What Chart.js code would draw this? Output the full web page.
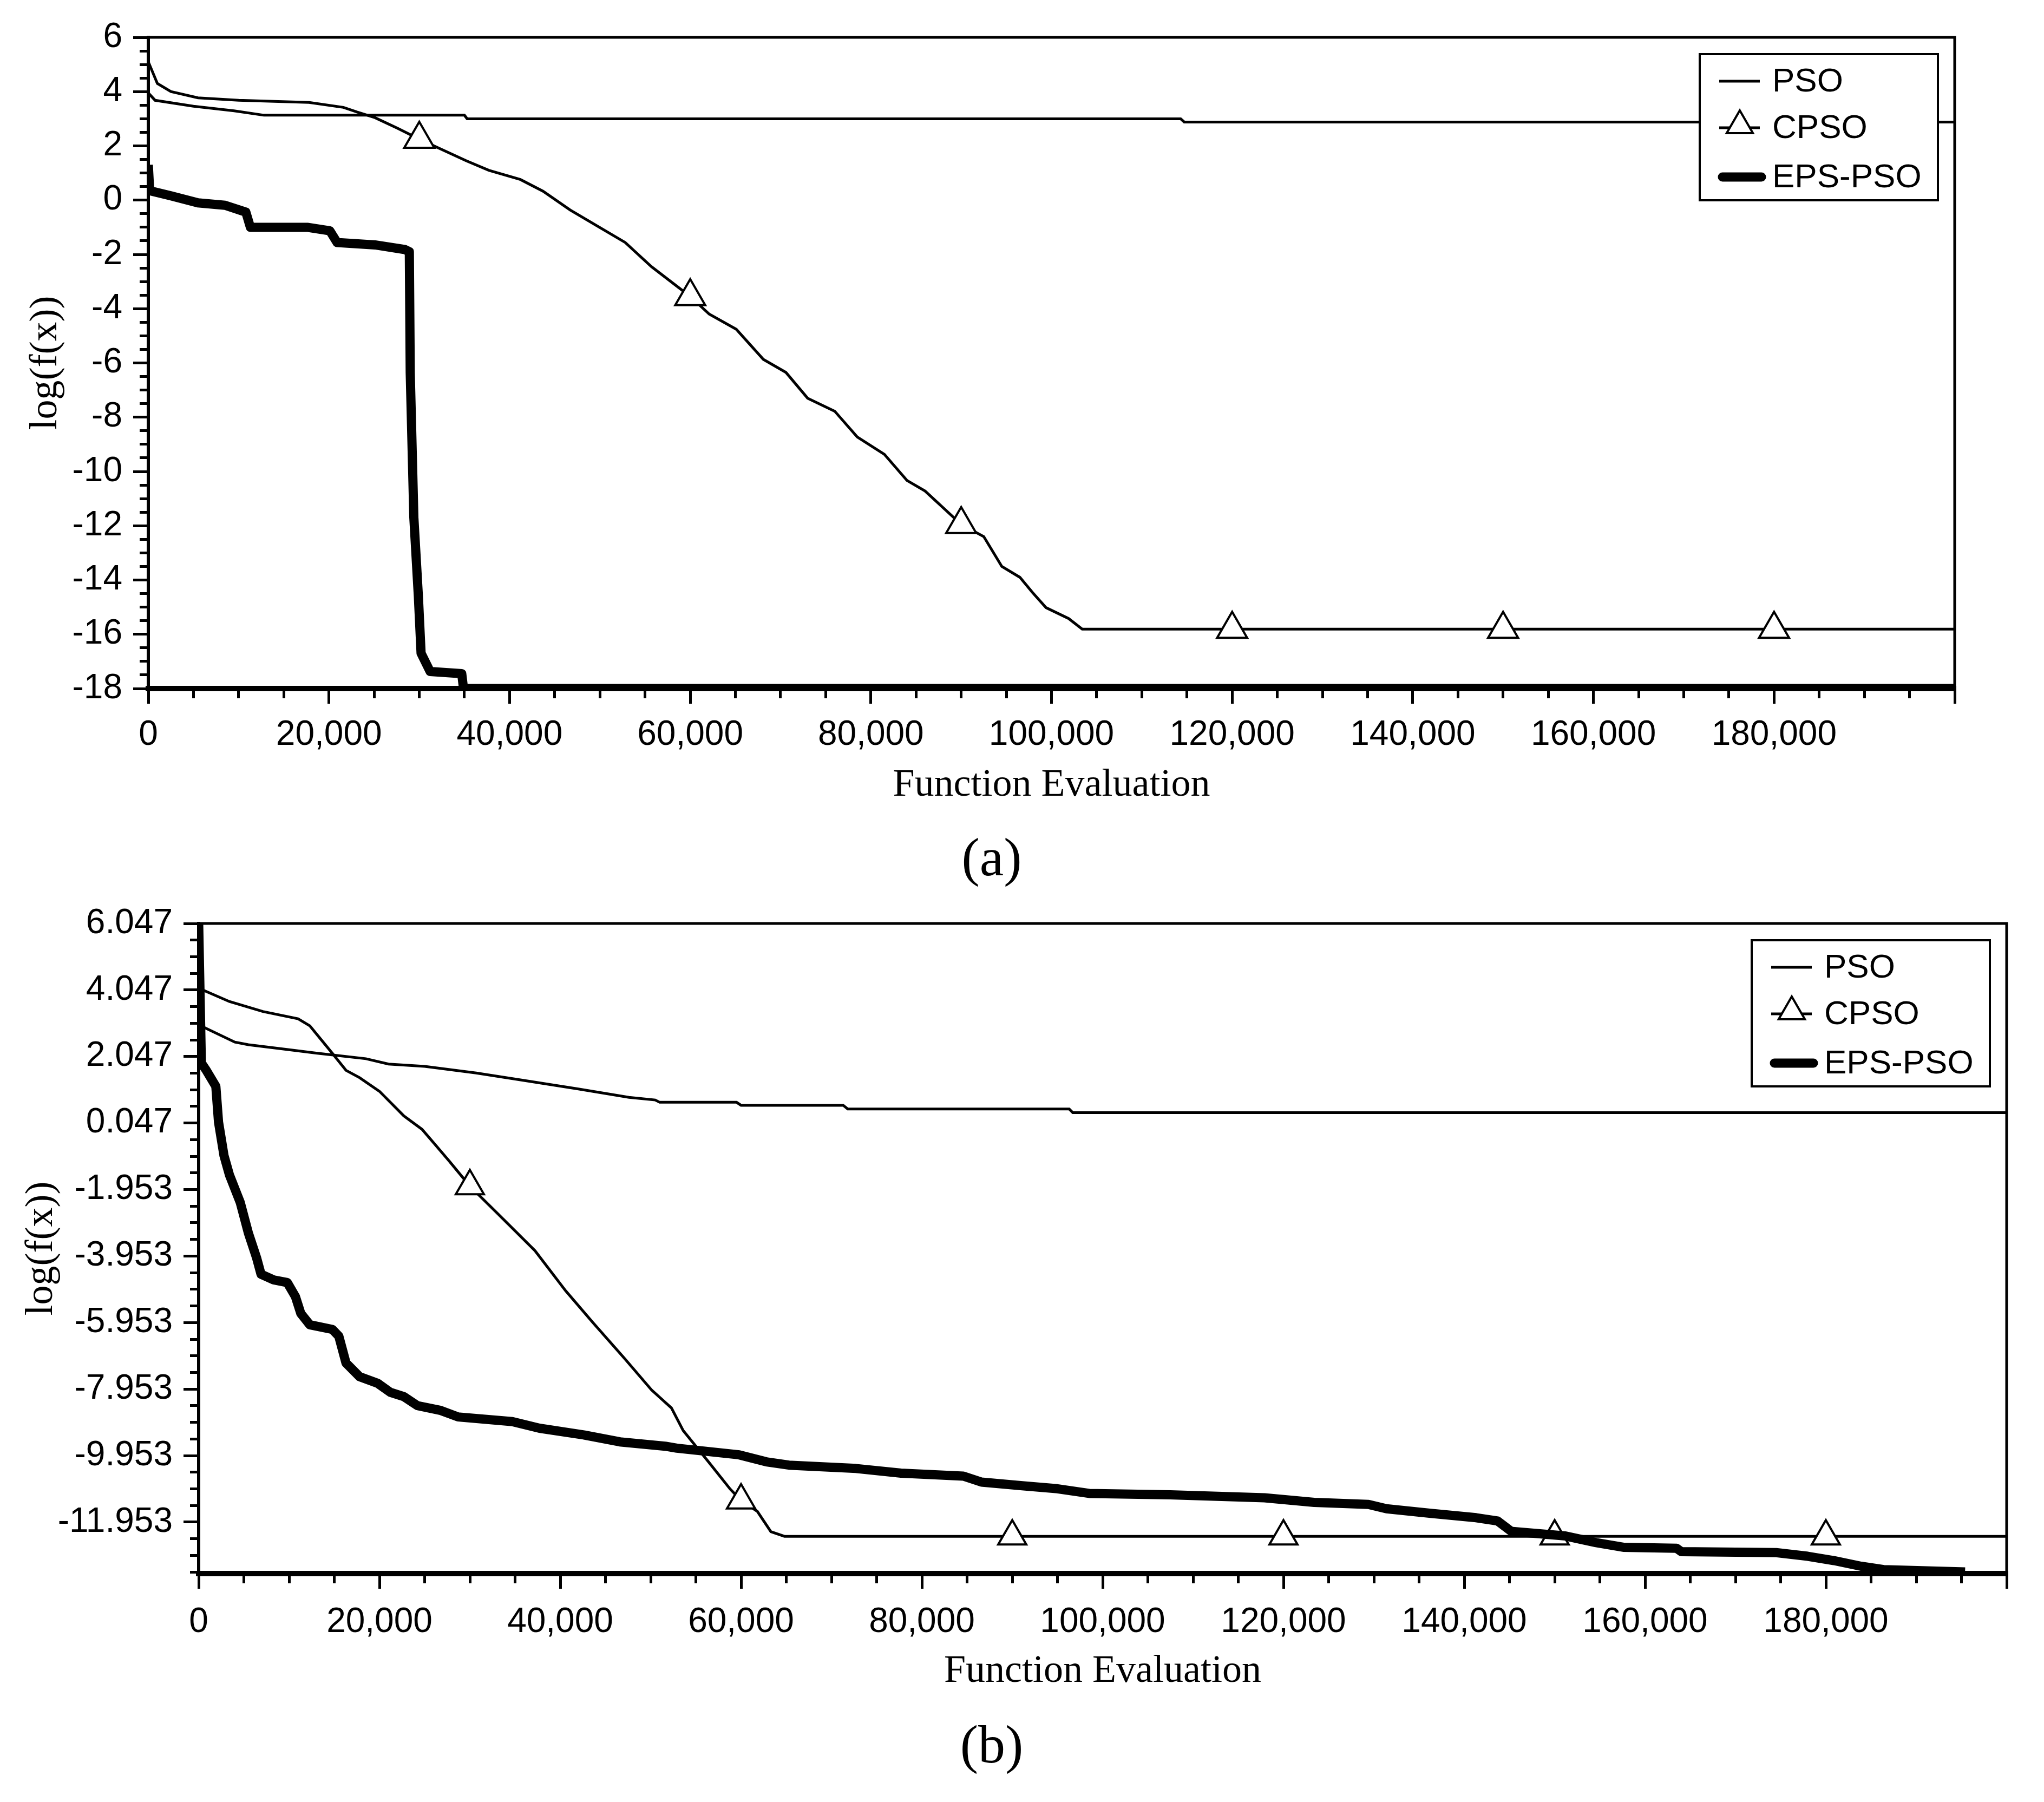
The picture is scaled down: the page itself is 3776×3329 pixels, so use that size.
<!DOCTYPE html>
<html>
<head>
<meta charset="utf-8">
<title>PSO / CPSO / EPS-PSO convergence</title>
<script src="https://cdn.jsdelivr.net/npm/chart.js@4.4.1/dist/chart.umd.min.js"></script>
<style>
  html, body { margin: 0; padding: 0; background: #fff; }
  body { width: 3776px; height: 3329px; position: relative; overflow: hidden; }
  canvas { position: absolute; left: 0; }
  #chartA { top: 0; }
  #chartB { top: 1600px; }
  .caption {
    position: absolute; left: 1632px; width: 400px; text-align: center;
    font-family: "Liberation Serif", "Times New Roman", serif; font-size: 100px; line-height: 1;
    color: #000; z-index: 2;
  }
</style>
</head>
<body>
<canvas id="chartA" width="3776" height="1500"></canvas>
<canvas id="chartB" width="3776" height="1540"></canvas>
<div class="caption" style="top:1534px">(a)</div>
<div class="caption" style="top:3173px">(b)</div>

<script>
const seriesNames = ["PSO", "CPSO", "EPS-PSO"];

const xTicks = [0, 20000, 40000, 60000, 80000, 100000, 120000, 140000, 160000, 180000, 200000];
const xTickLabels = ["0", "20,000", "40,000", "60,000", "80,000", "100,000", "120,000", "140,000", "160,000", "180,000", ""];
const yTicksA = [-18, -16, -14, -12, -10, -8, -6, -4, -2, 0, 2, 4, 6];
const yTicksB = [6.047, 4.047, 2.047, 0.047, -1.953, -3.953, -5.953, -7.953, -9.953, -11.953];

// CPSO gets a triangle at these evaluations
const markerX = [30000, 60000, 90000, 120000, 150000, 180000];

// (a)
const psoAX = [0, 750, 5000, 9500, 12800, 35000, 35300, 114300, 114700, 200000];
const psoAY = [3.95, 3.68, 3.46, 3.29, 3.13, 3.13, 3.0, 3.0, 2.88, 2.88];

const cpsoAX = [0, 1000, 2500, 5500, 10000, 17800, 21600, 23100, 25100, 27600, 30000, 35200, 37700, 41200, 43700,
  46700, 50200, 52800, 55700, 60000, 62100, 65100, 68100, 70600, 73000, 76000, 78500, 81500, 84000, 86000,
  90000, 92500, 94500, 96500, 97900, 99400, 101900, 103400, 120000, 150000, 180000, 200000];
const cpsoAY = [5.1, 4.3, 4.0, 3.77, 3.68, 3.6, 3.42, 3.25, 3.04, 2.65, 2.25, 1.45, 1.1, 0.76, 0.33,
  -0.36, -1.05, -1.56, -2.45, -3.55, -4.2, -4.76, -5.87, -6.35, -7.3, -7.78, -8.73, -9.37, -10.33, -10.72,
  -11.95, -12.4, -13.5, -13.9, -14.46, -15.02, -15.42, -15.81, -15.81, -15.81, -15.81, -15.81];

const epsAX = [0, 150, 2500, 5500, 8500, 10800, 11300, 17600, 20100, 20900, 25100, 28400, 28900, 29000, 29400,
  29900, 30200, 31200, 34700, 34900, 200000];
const epsAY = [1.3, 0.35, 0.16, -0.1, -0.19, -0.44, -1.0, -1.0, -1.13, -1.56, -1.65, -1.82, -1.9, -6.37, -11.7,
  -14.6, -16.7, -17.37, -17.45, -18, -18];

// (b)
const psoBX = [0, 4000, 5500, 10000, 13000, 18500, 21000, 25000, 30700, 35700, 42000, 47600, 50500, 51000,
  59500, 60000, 71300, 71800, 96300, 96700, 200000];
const psoBY = [3.0, 2.48, 2.4, 2.25, 2.15, 1.98, 1.82, 1.75, 1.55, 1.34, 1.07, 0.82, 0.74, 0.67,
  0.67, 0.58, 0.58, 0.47, 0.47, 0.36, 0.36];

const cpsoBX = [0, 3400, 7100, 11000, 12300, 13500, 14800, 16300, 17800, 20000, 22700, 24700, 26000, 27700, 30000,
  33200, 37200, 40600, 43600, 47100, 50100, 52300, 53600, 56400, 58800, 60000, 61800, 63300, 64800,
  90000, 120000, 150000, 180000, 200000];
const cpsoBY = [4.1, 3.7, 3.4, 3.18, 2.97, 2.57, 2.14, 1.63, 1.41, 1.0, 0.26, -0.14, -0.55, -1.09, -1.85,
  -2.71, -3.79, -5.0, -5.95, -7.03, -7.98, -8.52, -9.2, -10.14, -10.96, -11.3, -11.63, -12.24, -12.38,
  -12.38, -12.38, -12.38, -12.38, -12.38];

const epsBX = [0, 300, 800, 1900, 2200, 2800, 3400, 4600, 5500, 6400, 6900, 8300, 9800, 10700, 11300,
  12300, 14800, 15500, 16300, 17800, 19800, 21200, 22700, 24200, 26700, 28700, 34700, 37700, 42600, 46600,
  51600, 52900, 59800, 62800, 65300, 72700, 77700, 84600, 86600, 91100, 95000, 98500, 107500, 117900, 123400,
  129400, 131400, 136300, 141300, 143700, 145200, 151200, 154600, 157600, 163500, 164000, 174500, 178000,
  180900, 183900, 186400, 195400];
const epsBY = [6.05, 1.85, 1.65, 1.15, 0.07, -0.93, -1.51, -2.34, -3.26, -4.0, -4.5, -4.67, -4.75, -5.17, -5.68,
  -6.02, -6.16, -6.36, -7.17, -7.58, -7.78, -8.05, -8.18, -8.45, -8.59, -8.79, -8.93, -9.13, -9.33, -9.54,
  -9.67, -9.73, -9.93, -10.14, -10.24, -10.34, -10.48, -10.57, -10.75, -10.86, -10.95, -11.09, -11.13, -11.22, -11.36,
  -11.42, -11.55, -11.69, -11.82, -11.92, -12.23, -12.37, -12.57, -12.71, -12.74, -12.84, -12.87, -12.98,
  -13.11, -13.28, -13.38, -13.45];

const tickFont = { family: '"Liberation Sans", Arial, sans-serif', size: 64 };
const titleFont = { family: '"Liberation Serif", "Times New Roman", serif', size: 72 };
const legendRows = [50, 136, 227];

const pts = (xs, ys) => xs.map((x, i) => ({ x: x, y: ys[i] }));

function drawTriangle(ctx, x, y, r) {
  ctx.beginPath();
  for (let k = 0; k < 3; k++) {
    const a = k * 2 * Math.PI / 3;
    const px = x + Math.sin(a) * r, py = y - Math.cos(a) * r;
    if (k === 0) ctx.moveTo(px, py); else ctx.lineTo(px, py);
  }
  ctx.closePath();
  ctx.fillStyle = "#fff";
  ctx.fill();
  ctx.stroke();
}

// top/right frame and the boxed legend in the upper right corner
const frameAndLegend = {
  id: "frameAndLegend",
  afterDraw(chart) {
    const { ctx, chartArea: a } = chart;
    ctx.save();
    ctx.strokeStyle = "#000";
    ctx.lineWidth = 5;
    ctx.beginPath();
    ctx.moveTo(a.left, a.top);
    ctx.lineTo(a.right, a.top);
    ctx.lineTo(a.right, a.bottom);
    ctx.stroke();

    const w = 440, h = 270;
    const left = a.right - 31 - w, top = a.top + 31;
    ctx.fillStyle = "#fff";
    ctx.fillRect(left, top, w, h);
    ctx.lineWidth = 4;
    ctx.strokeRect(left, top, w, h);

    chart.data.datasets.forEach((ds, i) => {
      const y = top + legendRows[i];
      ctx.lineWidth = ds.borderWidth;
      ctx.lineCap = ds.borderWidth > 8 ? "round" : "butt";
      ctx.beginPath();
      ctx.moveTo(left + (ds.borderWidth > 8 ? 42 : 36), y);
      ctx.lineTo(left + (ds.borderWidth > 8 ? 114 : 111), y);
      ctx.stroke();
      if (ds.pointStyle === "triangle") {
        ctx.lineWidth = 4;
        drawTriangle(ctx, left + 74, y - 4, 28);
      }
      ctx.fillStyle = "#000";
      ctx.font = '62px "Liberation Sans", Arial, sans-serif';
      ctx.textAlign = "left";
      ctx.textBaseline = "middle";
      ctx.fillText(ds.label, left + 134, y + 2);
    });
    ctx.restore();
  }
};

function makeDatasets(pso, cpso, eps, markerR) {
  return [
    { label: seriesNames[0], data: pso, borderColor: "#000", borderWidth: 5, pointRadius: 0, order: 2 },
    {
      label: seriesNames[1], data: cpso, borderColor: "#000", borderWidth: 5, order: 1,
      pointStyle: "triangle",
      pointRadius: c => (c.raw && markerX.includes(c.raw.x)) ? markerR : 0,
      pointBorderWidth: 4, pointBorderColor: "#000", pointBackgroundColor: "#fff"
    },
    { label: seriesNames[2], data: eps, borderColor: "#000", borderWidth: 17, pointRadius: 0, order: 0, borderJoinStyle: "round" }
  ];
}

function makeOptions(p) {
  return {
    responsive: false,
    animation: false,
    devicePixelRatio: 1,
    events: [],
    layout: { padding: { left: 0, top: p.padTop, right: p.padRight, bottom: 0 } },
    elements: { line: { tension: 0 } },
    plugins: { legend: { display: false }, tooltip: { enabled: false } },
    scales: {
      x: {
        type: "linear", axis: "x", position: "bottom", min: 0, max: 200000,
        afterBuildTicks: s => { s.ticks = xTicks.map(v => ({ value: v })); },
        afterFit: s => { s.height = p.xHeight; },
        ticks: { autoSkip: false, maxRotation: 0, padding: p.xLabelPad, color: "#000", font: tickFont,
          callback: (v, i) => xTickLabels[i] },
        grid: { drawOnChartArea: false, tickLength: 28, lineWidth: 5, color: "#000" },
        border: { color: "#000", width: 10 },
        title: { display: true, text: "Function Evaluation", color: "#000", font: titleFont,
          padding: { top: 0, bottom: p.xTitlePad } }
      },
      xMinor: {
        type: "linear", axis: "x", position: { y: p.yMin }, min: 0, max: 200000,
        afterBuildTicks: s => {
          const t = [];
          for (let v = 0; v <= 200000; v += 5000) t.push({ value: v });
          s.ticks = t;
        },
        ticks: { display: false },
        grid: { drawOnChartArea: false, tickLength: 18, lineWidth: 5, color: "#000" },
        border: { display: false }
      },
      y: {
        type: "linear", axis: "y", position: "left", min: p.yMin, max: p.yMax,
        afterBuildTicks: s => { s.ticks = p.yTicks.map(v => ({ value: v })); },
        afterFit: s => { s.width = p.yWidth; },
        ticks: { autoSkip: false, padding: 20, color: "#000", font: tickFont, callback: p.yLabel },
        grid: { drawOnChartArea: false, tickLength: 28, lineWidth: 5, color: "#000" },
        border: { color: "#000", width: 6 },
        title: { display: true, text: "log(f(x))", color: "#000", font: titleFont,
          padding: { top: p.yTitlePad, bottom: 0 } }
      },
      yMinor: {
        type: "linear", axis: "y", position: { x: 0 }, min: p.yMin, max: p.yMax,
        afterBuildTicks: s => {
          const t = [];
          for (let v = p.yMax; v >= p.yMin - 1e-9; v -= 0.5) t.push({ value: v });
          s.ticks = t;
        },
        ticks: { display: false },
        grid: { drawOnChartArea: false, tickLength: 16, lineWidth: 5, color: "#000" },
        border: { display: false }
      }
    }
  };
}

new Chart(document.getElementById("chartA"), {
  type: "line",
  data: { datasets: makeDatasets(pts(psoAX, psoAY), pts(cpsoAX, cpsoAY), pts(epsAX, epsAY), 32) },
  options: makeOptions({
    padTop: 69, padRight: 165, xHeight: 228, yWidth: 274,
    xLabelPad: 20, xTitlePad: 6, yTitlePad: 42,
    yMin: -18, yMax: 6, yTicks: yTicksA, yLabel: v => String(v)
  }),
  plugins: [frameAndLegend]
});

new Chart(document.getElementById("chartB"), {
  type: "line",
  data: { datasets: makeDatasets(pts(psoBX, psoBY), pts(cpsoBX, cpsoBY), pts(epsBX, epsBY), 30) },
  options: makeOptions({
    padTop: 106, padRight: 69, xHeight: 233, yWidth: 367,
    xLabelPad: 24, xTitlePad: 9, yTitlePad: 34,
    yMin: -13.5, yMax: 6.047, yTicks: yTicksB, yLabel: v => v.toFixed(3)
  }),
  plugins: [frameAndLegend]
});
</script>
</body>
</html>
